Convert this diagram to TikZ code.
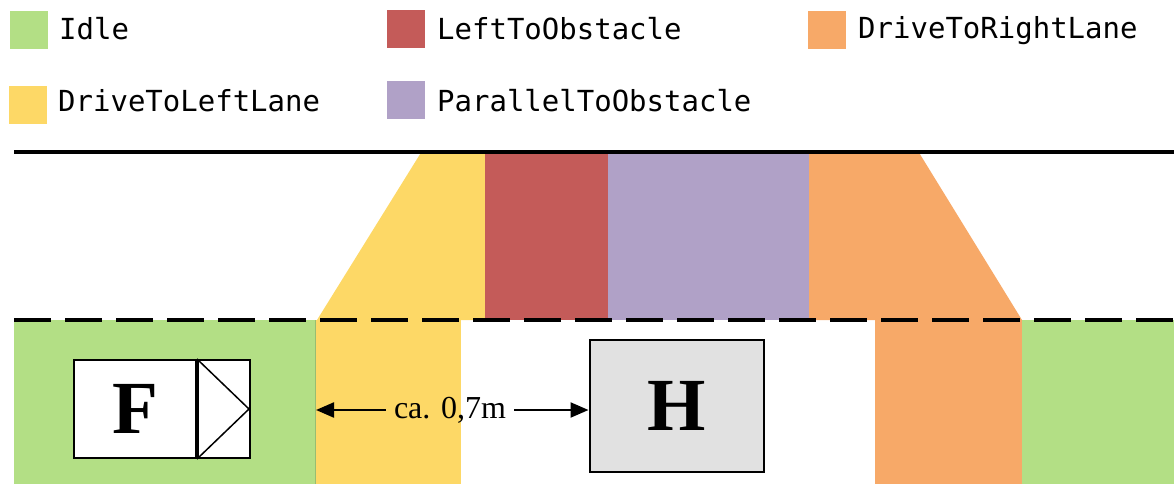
\documentclass[tikz,border=0pt]{standalone}
\usepackage{fontspec}
\setmainfont{Liberation Serif}
\setmonofont{DejaVu Sans Mono}
\usetikzlibrary{arrows.meta,positioning}
\definecolor{idle}{HTML}{B3DF85}
\definecolor{leftobst}{HTML}{C45B59}
\definecolor{rightlane}{HTML}{F7A968}
\definecolor{leftlane}{HTML}{FDD866}
\definecolor{parobst}{HTML}{B0A1C7}
\definecolor{hfill}{HTML}{E1E1E1}
\tikzset{
  legbox/.style={minimum size=38pt, inner sep=0pt},
  legtext/.style={
    anchor=base west, inner sep=0pt,
    font=\ttfamily\fontsize{29}{34}\selectfont
  },
  carbox/.style={
    draw=black, line width=2pt, inner sep=0pt,
    font=\bfseries\fontsize{75}{80}\selectfont
  },
  dimarrow/.style={-{Triangle[length=18pt,width=15pt]}, line width=2.2pt},
  lanemark/.style={line width=4pt}
}

\begin{document}
\begin{tikzpicture}[x=1pt,y=-1pt]
  \useasboundingbox (0,0) rectangle (1174,484);

  % legend
  \node[legbox, fill=idle]      (kIdle)  at (29,30)   {};
  \node[legbox, fill=leftobst]  (kLObs)  at (406,29)  {};
  \node[legbox, fill=rightlane] (kRLane) at (827,30)  {};
  \node[legbox, fill=leftlane]  (kLLane) at (28,105)  {};
  \node[legbox, fill=parobst]   (kPObs)  at (406,100) {};
  \node[legtext] (tIdle)  at (59,40)   {Idle};
  \node[legtext] (tLObs)  at (437,40)  {LeftToObstacle};
  \node[legtext] (tRLane) at (858,39)  {DriveToRightLane};
  \node[legtext] (tLLane) at (58,112)  {DriveToLeftLane};
  \node[legtext] (tPObs)  at (437,112) {ParallelToObstacle};

  % state areas on the road
  \fill[idle] (14,320) rectangle (316,484);
  \draw[idle!85!black, line width=1.5pt] (316,320) -- (316,484);
  \fill[leftlane] (316,320) rectangle (461,484);
  \fill[leftlane] (317,320) -- (422,151) -- (485,151) -- (485,320) -- cycle;
  \fill[leftobst] (485,151) rectangle (608,320);
  \fill[parobst] (608,151) rectangle (809,320);
  \fill[rightlane] (809,151) -- (918,151) -- (1022,320) -- (809,320) -- cycle;
  \fill[rightlane] (875,320) rectangle (1022,484);
  \fill[idle] (1022,320) rectangle (1174,484);

  % lane markings
  \draw[lanemark] (14,151.5) -- (1174,151.5);
  \draw[lanemark, dash pattern=on 37pt off 14pt] (14,320) -- (1174,320);

  % vehicle F and obstacle H
  \node[carbox, fill=white, minimum width=122pt, minimum height=98pt] (F) at (135,409) {F};
  \node[carbox, fill=white, minimum width=52pt, minimum height=98pt, anchor=west] (Fnose) at (F.east) {};
  \draw[line width=1.5pt, line join=miter] (Fnose.north west) -- ([xshift=-2pt]Fnose.east) -- (Fnose.south west);
  \node[carbox, fill=hfill, minimum width=174pt, minimum height=132pt] (H) at (676.5,406) {H};

  % distance to the obstacle
  \coordinate (laneL) at (316,410);
  \node[inner xsep=8pt, font=\fontsize{32}{36}\selectfont] (gap) at (450,410) {ca. 0,7m};
  \draw[dimarrow] (gap.west) -- (laneL);
  \draw[dimarrow] (gap.east) -- (gap.east -| H.west);
\end{tikzpicture}
\end{document}
